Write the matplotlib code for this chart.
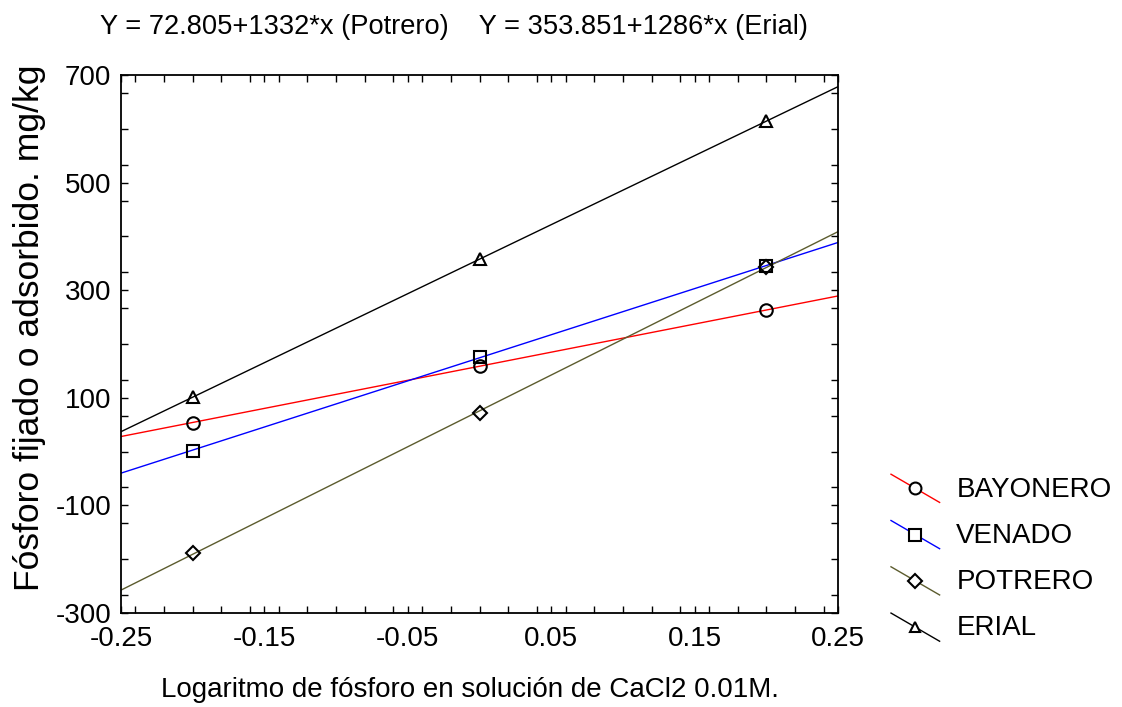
import numpy as np
import matplotlib
matplotlib.use("Agg")
import matplotlib.pyplot as plt
from matplotlib.lines import Line2D
from matplotlib.legend_handler import HandlerLine2D
from matplotlib.ticker import MultipleLocator

plt.rcParams["font.family"] = ["Liberation Sans", "DejaVu Sans"]
plt.rcParams["axes.unicode_minus"] = False

# log P in CaCl2 solution
x = np.array([-0.2, 0.0, 0.2])
series = ["BAYONERO", "VENADO", "POTRERO", "ERIAL"]
bayonero = [54, 159, 263]
venado = [2, 176, 345]
potrero = [-189, 72, 344]
erial = [101, 358, 614]
values = [bayonero, venado, potrero, erial]
colors = ["#ff0000", "#0000ff", "#5c5c2e", "#000000"]
markers = ["o", "s", "D", "^"]
msizes = [9, 9, 7, 8]

title = "Y = 72.805+1332*x (Potrero)    Y = 353.851+1286*x (Erial)"
xlabel = "Logaritmo de fósforo en solución de CaCl2 0.01M."
ylabel = "Fósforo fijado o adsorbido. mg/kg"


class DiagHandler(HandlerLine2D):
    # legend sample: falling line with the marker in the middle
    def create_artists(self, legend, orig_handle, xdescent, ydescent,
                       width, height, fontsize, trans):
        x0, x1 = -xdescent, width - xdescent
        y0, y1 = height * 1.15, -height * 0.3
        ln = Line2D([x0, x1], [y0, y1], color=orig_handle.get_color(), lw=1)
        mk = Line2D([(x0 + x1) / 2], [(y0 + y1) / 2],
                    marker=orig_handle.get_marker(),
                    markersize=orig_handle.get_markersize(),
                    markerfacecolor="white", markeredgecolor="black",
                    markeredgewidth=1.5, linestyle="none")
        ln.set_transform(trans)
        mk.set_transform(trans)
        return [ln, mk]


fig = plt.figure(figsize=(11.22, 7.07), dpi=100)
ax = fig.add_axes([121 / 1122, 94 / 707, 717 / 1122, 538 / 707])

xfit = np.array([-0.25, 0.25])
handles = []
for name, vals, c, m, ms in zip(series, values, colors, markers, msizes):
    b, a = np.polyfit(x, vals, 1)
    ax.plot(xfit, a + b * xfit, color=c, lw=1, zorder=2)
    ax.plot(x, vals, linestyle="none", marker=m, markersize=ms,
            markerfacecolor="none", markeredgecolor="black",
            markeredgewidth=1.5, zorder=3)
    handles.append(Line2D([], [], color=c, marker=m, markersize=ms * 0.95,
                          label=name))

ax.set_xlim(-0.25, 0.25)
ax.set_ylim(-300, 700)
ax.set_xticks(np.arange(-0.25, 0.26, 0.1))
ax.set_xticklabels(["-0.25", "-0.15", "-0.05", "0.05", "0.15", "0.25"])
ax.set_yticks([-300, -100, 100, 300, 500, 700])
ax.xaxis.set_minor_locator(MultipleLocator(0.02))
ax.yaxis.set_minor_locator(MultipleLocator(200 / 3))
ax.tick_params(which="both", direction="in", top=True, right=True,
               labelsize=20, width=1, length=5)
ax.tick_params(axis="x", which="major", pad=9)
ax.tick_params(axis="y", which="major", pad=7)
for sp in ax.spines.values():
    sp.set_linewidth(1.3)

fig.text(454 / 1122, 1 - 27 / 707, title, ha="center", va="center", fontsize=19.6)
fig.text(470 / 1122, 1 - 690 / 707, xlabel, ha="center", va="center", fontsize=20)
fig.text(30 / 1122, 1 - 328 / 707, ylabel, ha="center", va="center",
         rotation=90, fontsize=25.5)

fig.legend(handles=handles, loc="center left",
           bbox_to_anchor=(891 / 1122, 1 - 559 / 707),
           handler_map={Line2D: DiagHandler()}, frameon=False,
           borderpad=0, borderaxespad=0,
           fontsize=20, handlelength=1.75, handletextpad=0.6, labelspacing=0.73)

fig.savefig("out.png", dpi=100)
